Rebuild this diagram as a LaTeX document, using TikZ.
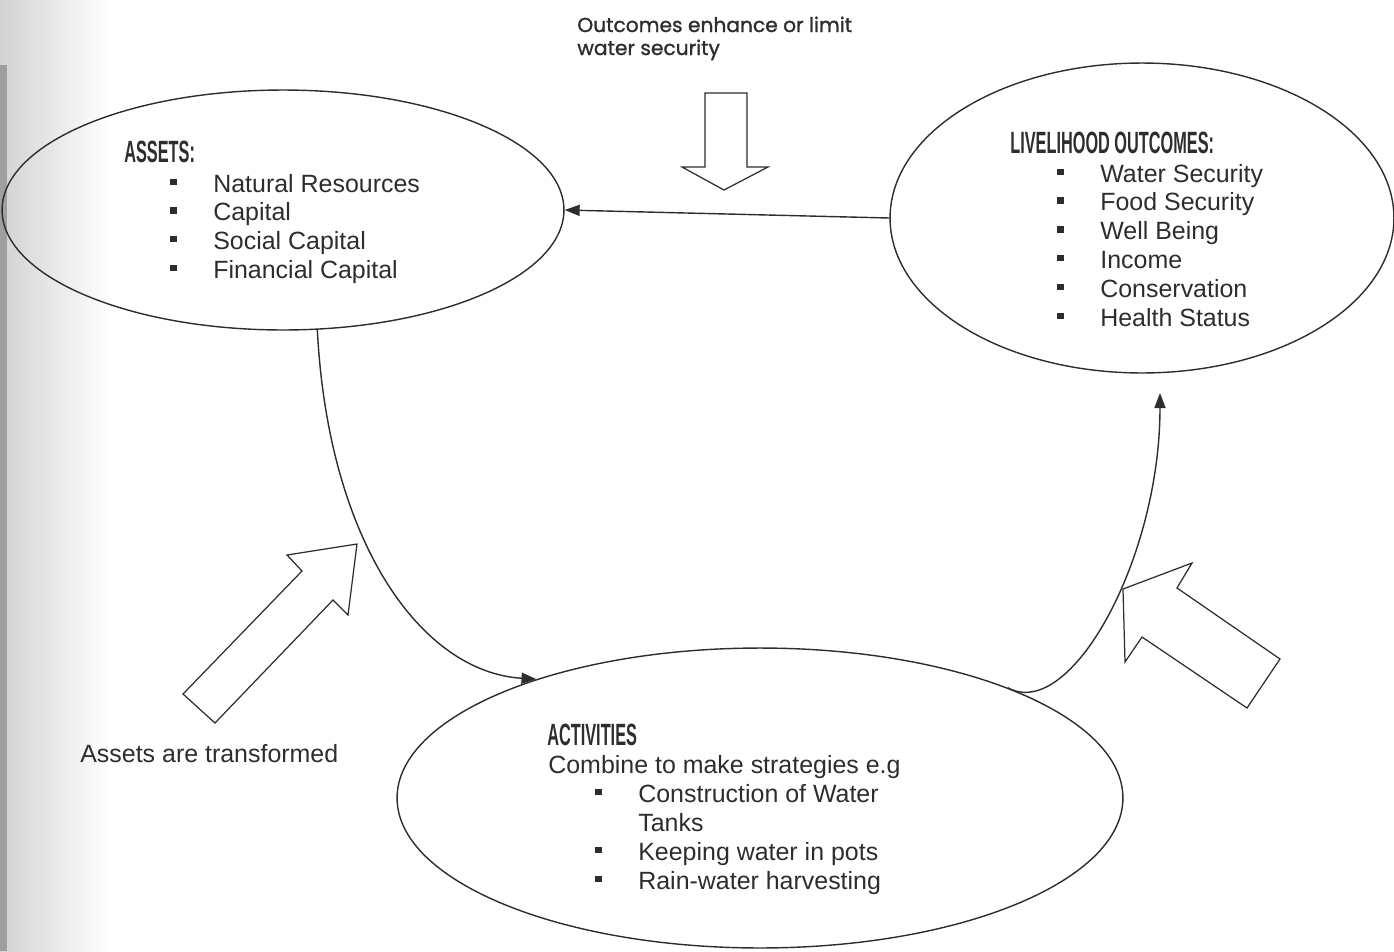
\documentclass[tikz,border=0pt]{standalone}
\usepackage{fontspec}
\setmainfont{Liberation Sans}
\newfontfamily\roundfont[FakeBold=1.2]{Poppins}
\usetikzlibrary{arrows.meta,shapes.geometric}
\definecolor{ink}{RGB}{45,45,45}
\newcommand\blt{\makebox[0.86cm][l]{\rule[4pt]{3.6pt}{3.6pt}}}
\newcommand\hd[1]{\scalebox{0.53}[1]{\fontsize{17.5}{20}\selectfont\bfseries #1}}

\begin{document}
\begin{tikzpicture}[x=0.02cm, y=-0.02cm,
    oval/.style={ellipse, draw=ink, line width=0.8pt, inner sep=0pt},
    conn/.style={draw=ink, line width=0.8pt, -{Triangle[length=3mm,width=2.2mm]}},
    block/.style={draw=ink, line width=0.7pt, fill=white, line join=miter},
    item/.style={anchor=base west, inner sep=0pt, text=ink, font=\fontsize{14.2}{16.3}\selectfont},
    note/.style={anchor=base west, inner sep=0pt, text=ink, font=\roundfont\fontsize{11.5}{14}\selectfont}
]
    \useasboundingbox (0,0) rectangle (1394,951);
    % scanned page shadow on the left
    \shade[left color=gray!35, right color=white] (0,0) rectangle (110,951);
    \fill[gray!75] (0,65) rectangle (7,951);

    % the three ovals
    \node[oval, minimum width=11.24cm, minimum height=4.8cm] (assets) at (283,210) {};
    \node[oval, minimum width=10.08cm, minimum height=6.2cm] (outcomes) at (1142,218) {};
    \node[oval, minimum width=14.52cm, minimum height=6cm] (activities) at (760,798) {};
    \coordinate (lhin) at (1160,393);

    % assets text
    \node[item] (asthd) at (124,162) {\hd{ASSETS:}};
    \foreach \txt [count=\i] in {Natural Resources, Capital, Social Capital, Financial Capital}
        \node[item] (ast\i) at (170,{192+28.7*(\i-1)}) {\blt\txt};

    % livelihood outcomes text
    \node[item] (lhhd) at (1010,153) {\hd{LIVELIHOOD OUTCOMES:}};
    \foreach \txt [count=\i] in {Water Security, Food Security, Well Being, Income, Conservation, Health Status}
        \node[item] (lh\i) at (1057,{182+28.8*(\i-1)}) {\blt\txt};

    % activities text
    \node[item] (acthd) at (547,745) {\hd{ACTIVITIES}};
    \node[item] (actsub) at (548,773) {Combine to make strategies e.g};
    \node[item] (act1) at (595,802) {\blt Construction of Water};
    \node[item] (act1b) at (638,831) {Tanks};
    \node[item] (act2) at (595,860) {\blt Keeping water in pots};
    \node[item] (act3) at (595,889) {\blt Rain-water harvesting};

    % side notes
    \node[item] (transf) at (80,762) {Assets are transformed};
    \node[note] (top1) at (577,32) {Outcomes enhance or limit};
    \node[note] (top2) at (577,55) {water security};

    % connectors
    \draw[conn] (outcomes.west) -- (assets.east);
    \draw[conn] (assets.286) .. controls (328,540) and (420,672) .. (activities.152);
    \draw[conn] (activities.24) .. controls (1070,722) and (1160,560) .. (lhin);

    % hollow block arrows
    \draw[block] (705,93) -- (747,93) -- (747,167) -- (768,167) -- (724,190) -- (682,167) -- (705,167) -- cycle;
    \draw[block] (183,694) -- (302,571) -- (287,555) -- (357,544) -- (348,615) -- (333,600) -- (215,723) -- cycle;
    \draw[block] (1280,659) -- (1177,588) -- (1192,563) -- (1123,589) -- (1125,662) -- (1142,637) -- (1247,708) -- cycle;
\end{tikzpicture}
\end{document}
